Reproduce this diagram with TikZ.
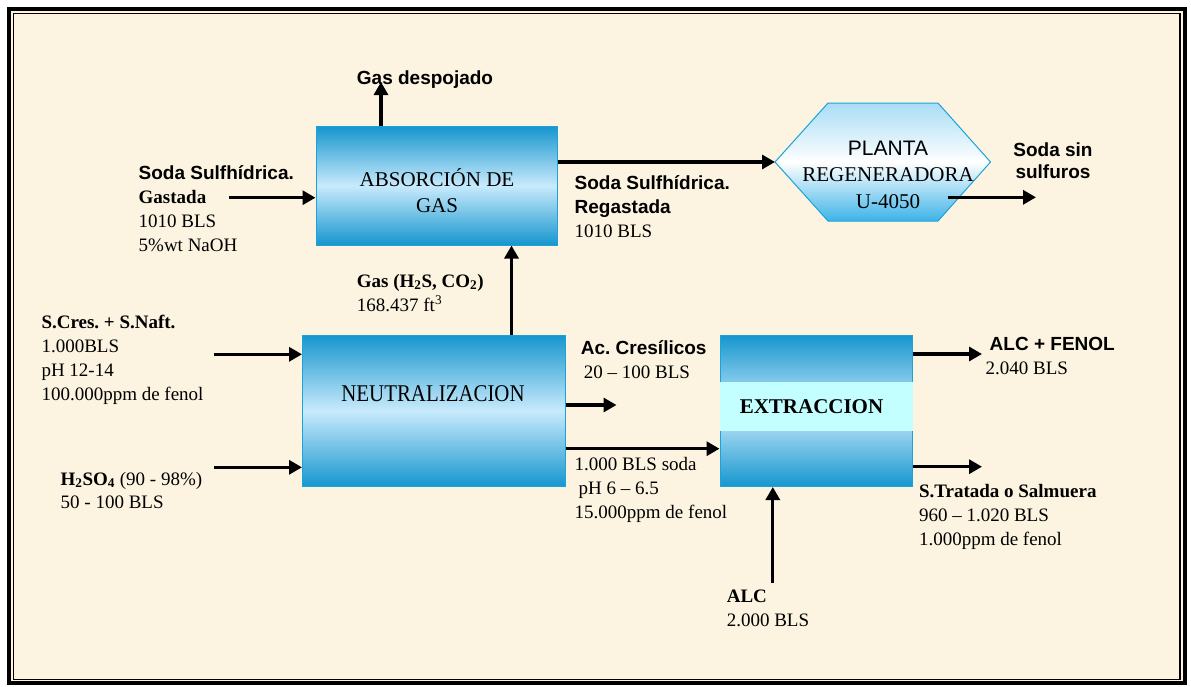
\documentclass[tikz,border=0pt]{standalone}
\usepackage{fontspec}
\setmainfont{Liberation Serif}
\setsansfont{Liberation Sans}
\newfontfamily\narrowserif{Liberation Serif}[FakeStretch=0.87]
\frenchspacing
\usetikzlibrary{arrows.meta}
\definecolor{parch}{RGB}{252,244,224}
\definecolor{deepblue}{RGB}{22,150,206}
\definecolor{paleblue}{RGB}{200,234,252}
\definecolor{rimblue}{RGB}{26,163,219}
\definecolor{bandcyan}{RGB}{196,255,255}
\definecolor{hextop}{RGB}{168,221,246}
\definecolor{hexbot}{RGB}{61,179,232}
\newcommand{\flowhead}[1]{\textsf{\bfseries #1}}
\tikzset{
  unit/.style={draw=rimblue, line width=1pt, top color=deepblue, bottom color=deepblue, middle color=paleblue, inner sep=0pt},
  unittext/.style={anchor=base, align=center, inner sep=0pt, font=\fontsize{21}{26.5}\selectfont},
  tag/.style={anchor=base west, align=left, inner sep=0pt, font=\fontsize{19}{24}\selectfont},
  flow/.style={line width=3.2pt, -{Triangle[length=13pt,width=14pt]}},
}
\begin{document}
\begin{tikzpicture}[x=1pt,y=-1pt]
      \useasboundingbox (0,0) rectangle (1191,686);
      \fill[white] (0,0) rectangle (1191,686);
      \fill[parch] (9,9) rectangle (1185,683);
      \draw[line width=4pt] (9.2,9.2) rectangle (1184.7,683);
      \draw[line width=1.3pt] (13.3,13.3) rectangle (1180,679.3);

      \node[unit, minimum width=241pt, minimum height=118.5pt] (absorcion) at (436.5,185.75) {};
      \node[unit, minimum width=262.5pt, minimum height=151.5pt] (neutral) at (433.75,410.75) {};
      \node[unit, minimum width=192.5pt, minimum height=151.5pt] (extrac) at (816.25,410.75) {};
      \fill[bandcyan] ([xshift=0.5pt]extrac.west |- 0,382) rectangle ([xshift=-0.5pt]extrac.east |- 0,431);
      \coordinate (hexW) at (775,162);
      \draw[draw=rimblue, line width=1pt, top color=hextop, bottom color=hexbot, middle color=white]
        (hexW) -- (828,103) -- (938,103) -- (990.5,162) -- (938,221) -- (828,221) -- cycle;

      \node[unittext] (absorcionTxt) at (437,212.5) {ABSORCIÓN DE\\GAS};
      \node[unittext, font=\fontsize{24}{28}\narrowserif] (neutralTxt) at (433,401) {NEUTRALIZACION};
      \node[unittext, font=\fontsize{21}{26}\selectfont\bfseries] (extracTxt) at (811.5,413.3) {EXTRACCION};
      \node[unittext] (plantaTxt) at (888,208) {\textsf{PLANTA}\\REGENERADORA\\U-4050};

      \node[tag] (despTxt) at (356.7,84) {\flowhead{Gas despojado}};
      \node[tag] (gastTxt) at (138.5,251) {\flowhead{Soda Sulfhídrica.}\\\textbf{Gastada}\\1010 BLS\\5\%wt NaOH};
      \node[tag] (regTxt) at (574.5,237) {\flowhead{Soda Sulfhídrica.}\\\flowhead{Regastada}\\1010 BLS};
      \node[tag, anchor=base, align=center, font=\fontsize{19}{22.5}\selectfont] (sinTxt) at (1053,178.5) {\flowhead{Soda sin}\\\flowhead{sulfuros}};
      \node[tag] (gasTxt) at (356.7,311) {\textbf{Gas (H\textsubscript{2}S, CO\textsubscript{2})}\\168.437 ft\textsuperscript{3}};
      \node[tag] (scresTxt) at (41.3,400.3) {\textbf{S.Cres. + S.Naft.}\\1.000BLS\\pH 12-14\\100.000ppm de fenol};
      \node[tag] (acidTxt) at (580.7,378.3) {\flowhead{Ac. Cresílicos}\\\hspace*{3pt}20 – 100 BLS};
      \node[tag, font=\fontsize{19}{23.3}\selectfont] (sulfTxt) at (60.5,508.3) {\textbf{H\textsubscript{2}SO\textsubscript{4}} (90 - 98\%)\\50 - 100 BLS};
      \node[tag] (linkTxt) at (574.5,518.7) {1.000 BLS soda\\\hspace*{4pt}pH 6 – 6.5\\15.000ppm de fenol};
      \node[tag] (alcTxt) at (726.6,626.7) {\textbf{ALC}\\2.000 BLS};
      \node[tag] (fenolTxt) at (989.5,374.7) {\flowhead{ALC + FENOL}\\\hspace*{-4pt}2.040 BLS};
      \node[tag] (salmTxt) at (918.8,545) {\textbf{S.Tratada o Salmuera}\\960 – 1.020 BLS\\1.000ppm de fenol};

      \coordinate (despOut) at (381,82);
      \coordinate (gastIn) at (228.5,197.7);
      \coordinate (regOut) at (947.5,197.3);
      \coordinate (sinOut) at (1036,197.3);
      \coordinate (riser) at (511.5,300);
      \coordinate (scresIn) at (214.3,354.3);
      \coordinate (sulfIn) at (214.3,467.3);
      \coordinate (acidOut) at (616.5,405);
      \coordinate (sodaLink) at (640,448.7);
      \coordinate (alcIn) at (772.8,583);
      \coordinate (fenolOut) at (982,354);
      \coordinate (salmOut) at (982,466.7);
      \begin{scope}[flow]
        \draw (absorcion.north -| despOut) to (despOut);
        \draw (gastIn) to (gastIn -| absorcion.west);
        \draw (absorcion.east |- hexW) to (hexW);
        \draw (regOut) to (sinOut);
        \draw (riser |- neutral.north) to (riser |- absorcion.south);
        \draw (scresIn) to (scresIn -| neutral.west);
        \draw (sulfIn) to (sulfIn -| neutral.west);
        \draw (neutral.east |- acidOut) to (acidOut);
        \draw (neutral.east |- sodaLink) to (sodaLink -| extrac.west);
        \draw (alcIn) to (alcIn |- extrac.south);
        \draw (extrac.east |- fenolOut) to (fenolOut);
        \draw (extrac.east |- salmOut) to (salmOut);
      \end{scope}
    \end{tikzpicture}
\end{document}
